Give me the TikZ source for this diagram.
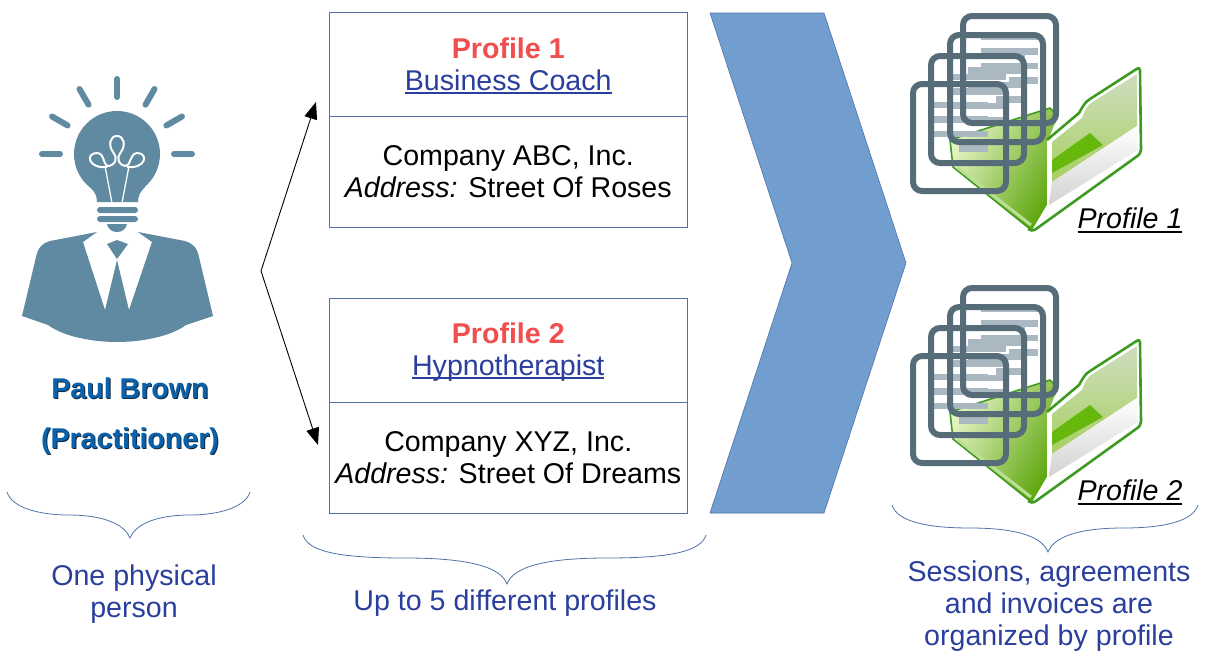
\documentclass[tikz,border=0pt]{standalone}
\usepackage{fontspec}
\setmainfont{Liberation Sans}
\usetikzlibrary{positioning,arrows.meta}
\definecolor{bluetext}{HTML}{2A3F9C}
\definecolor{nametext}{HTML}{0A62AC}
\definecolor{nameshadow}{HTML}{12293F}
\definecolor{redtext}{HTML}{F04F4F}
\definecolor{boxline}{HTML}{4F73A8}
\definecolor{chevronblue}{HTML}{729ECF}
\definecolor{personblue}{HTML}{5F8AA1}
\definecolor{docline}{HTML}{566C79}
\definecolor{docbar}{HTML}{A9B8C1}
\definecolor{folderline}{HTML}{3F9A22}
\definecolor{foldergreen}{HTML}{66B80C}
\definecolor{folderlight}{HTML}{E8F5C8}
\definecolor{flaptop}{HTML}{CFDDC0}
\definecolor{flapmid}{HTML}{A6D060}
\newcommand{\ulbar}[2][-3.5pt]{\leavevmode\setbox0=\hbox{#2}\rlap{\copy0}\rule[#1]{\wd0}{1.7pt}}
\newcommand{\headtop}{\rule{0pt}{26pt}}
\newcommand{\headbot}{\rule[-7pt]{0pt}{7pt}}
\begin{document}
\begin{tikzpicture}[x=1pt, y=-1pt, font=\fontsize{28.6}{32}\selectfont,
    mybox/.style={draw=boxline, line width=0.8pt, minimum width=357.5pt, inner sep=0pt, outer sep=0pt, align=center, fill=white},
    caption/.style={text=bluetext, align=center, inner sep=0pt},
    personname/.style={font=\fontsize{28.6}{32}\selectfont\bfseries, inner sep=0pt},
    bracket/.style={draw=boxline, line width=0.8pt},
    ray/.style={draw=personblue, line width=6pt, line cap=round}]
    \useasboundingbox (0,0) rectangle (1210,659);
    % person
    \foreach \a in {0,30,...,180}{
      \draw[ray] (117,154) ++(-\a:57) -- ++(-\a:18);
    }
    \fill[personblue] (90,187) .. controls (95,192) and (97,196) .. (97,202) -- (138,202) .. controls (138,196) and (140,192) .. (145,187) -- cycle;
    \fill[personblue] (117,154) circle[radius=43];
    \fill[personblue, rounded corners=3pt] (97,207) rectangle (138,213);
    \fill[personblue, rounded corners=3pt] (97,216) rectangle (138,222);
    \fill[personblue] (107,224) -- (127,224) .. controls (126,229) and (122,232) .. (117,232) .. controls (112,232) and (108,229) .. (107,224) -- cycle;
    \draw[white, line width=1.3pt] (112,203) -- (105,166);
    \draw[white, line width=1.3pt] (122,203) -- (129,166);
    \draw[white, line width=2pt] (107,167) .. controls (88,169) and (85,153) .. (97,153)
      .. controls (105,153) and (103,167) .. (109,166) .. controls (114,165) and (119,160) .. (113,152)
      .. controls (108,145) and (110,136) .. (117,136) .. controls (124,136) and (126,145) .. (121,152)
      .. controls (115,160) and (120,165) .. (125,166) .. controls (131,167) and (129,154) .. (137,153)
      .. controls (149,153) and (146,169) .. (127,167);
    \fill[personblue] (22,316) -- (36,257) .. controls (38,247) and (43,243) .. (50,241) -- (97,232) -- (83,242) -- (105,310) -- (117,260) -- (129,310) -- (152,242) -- (138,232)
      -- (185,241) .. controls (192,243) and (197,247) .. (199,257) -- (213,316) -- (186,325)
      .. controls (170,337) and (140,342) .. (117,342) .. controls (94,342) and (64,337) .. (48,325) -- cycle;
    \fill[personblue] (107,244) -- (117,240) -- (128,244) -- (117,259) -- cycle;
    \node[personname, text=nameshadow] (nameshadow) at (131,389) {Paul Brown};
    \node[personname, text=nametext] (name) at (130,388) {Paul Brown};
    \node[personname, text=nameshadow] (roleshadow) at (131,442) {(Practitioner)};
    \node[personname, text=nametext] (role) at (130,441) {(Practitioner)};
    % profiles
    \node[mybox, minimum height=104pt, anchor=north west] (head1) at (329.5,12.5) {\headtop\textcolor{redtext}{\textbf{Profile 1}}\\ \textcolor{bluetext}{\ulbar{Business Coach}}\headbot};
    \node[mybox, minimum height=111pt, below=0pt of head1] (body1) {Company ABC, Inc.\\ {\itshape Address:} Street Of Roses};
    \node[mybox, minimum height=104pt, anchor=north west] (head2) at (329.5,298) {\headtop\textcolor{redtext}{\textbf{Profile 2}}\\ \textcolor{bluetext}{\ulbar{Hypnotherapist}}\headbot};
    \node[mybox, minimum height=111pt, below=0pt of head2] (body2) {Company XYZ, Inc.\\ {\itshape Address:} Street Of Dreams};
    \coordinate (fork) at (261,271);
    \coordinate (tip1) at (316,102);
    \coordinate (tip2) at (318,445);
    \draw[line width=0.9pt, -{Triangle[length=17pt, width=13pt]}] (fork) -- (tip1);
    \draw[line width=0.9pt, -{Triangle[length=17pt, width=13pt]}] (fork) -- (tip2);
    % chevron
    \fill[chevronblue] (710,13) -- (824,13) -- (906,263) -- (824,513) -- (710,513) -- (792,263) -- cycle;
    \draw[boxline, line width=0.6pt] (710,13) -- (824,13) -- (906,263) -- (824,513) -- (710,513) -- (792,263) -- cycle;
    % folders
    \foreach \i/\off in {1/0,2/272}{
      \begin{scope}[shift={(0,\off)}]
        \shade[left color=folderlight, middle color=foldergreen, right color=foldergreen!90!black, shading angle=60] (950,140) -- (1050,108) -- (1058,116) -- (1048,140) -- (1047,205) -- (1032,230) -- (953,167) -- cycle;
        \draw[folderline, line width=1.6pt, line join=round] (950,140) -- (1050,108) -- (1058,116);
        \draw[folderline, line width=1.6pt, line join=round] (950,140) -- (953,167) -- (1030,229);
        \draw[white!55!foldergreen, line width=3pt] (958,168) -- (1031,225);
        \fill[white] (1047,140) -- (1079,113) .. controls (1083,106) and (1085,102) .. (1090,99) -- (1137,69) -- (1140,72) -- (1141,153) -- (1033,229) -- (1047,205) -- cycle;
        \shade[top color=flaptop, bottom color=flapmid] (1052,142) -- (1082,118) .. controls (1085,110) and (1087,106) .. (1091,103) -- (1137,74) -- (1137,126) -- (1052,182) -- cycle;
        \fill[foldergreen] (1052,173) -- (1052,160) -- (1090,133) -- (1103,145) -- cycle;
        \shade[top color=white, bottom color=gray!35] (1052,182) -- (1137,126) -- (1138,150) -- (1049,205) -- cycle;
        \draw[folderline, line width=2.6pt, line join=round] (1047,140) -- (1079,113) .. controls (1083,106) and (1085,102) .. (1090,99) -- (1135,70) .. controls (1139,67) and (1140,68) .. (1140,72)
          -- (1141,150) .. controls (1141,153) and (1139,155) .. (1136,157) -- (1036,229) .. controls (1033,231) and (1030,231) .. (1028,229);
        \foreach \dx/\dy in {910/81,928/53,947/32,960/13}{
          \fill[docbar] (\dx+21,\dy+21) rectangle (\dx+78,\dy+27);
          \fill[docbar] (\dx+21,\dy+35) rectangle (\dx+78,\dy+42);
          \fill[docbar] (\dx+21,\dy+50) rectangle (\dx+78,\dy+56);
          \fill[docbar] (\dx+49,\dy+64) rectangle (\dx+78,\dy+71);
        }
        \foreach \dx/\dy in {910/81,928/53,947/32,960/13}{
          \draw[docline, line width=6pt, rounded corners=9pt] (\dx+3,\dy+3) rectangle (\dx+96,\dy+110);
        }
        \node[inner sep=0pt, font=\fontsize{28.6}{32}\selectfont\itshape] (tag\i) at (1130,220) {\ulbar[-4.5pt]{Profile \i}};
      \end{scope}
    }
    % braces
    \foreach \xl/\xm/\xr/\yt/\dep in {7/130/250/492/46,303/507/706/535/49,892/1048/1198/505/47}{
      \draw[bracket] (\xl,\yt) .. controls (\xl+5,\yt+16) and (\xl+33,\yt+23) .. (\xl/2+\xm/2,\yt+23)
        .. controls (\xm-25,\yt+23) and (\xm-5,\yt+\dep-13) .. (\xm,\yt+\dep)
        .. controls (\xm+5,\yt+\dep-13) and (\xm+25,\yt+23) .. (\xm/2+\xr/2,\yt+23)
        .. controls (\xr-33,\yt+23) and (\xr-5,\yt+16) .. (\xr,\yt);
    }
    \node[caption] (person) at (134,594) {One physical\\ person};
    \node[caption] (upto) at (505,603) {Up to 5 different profiles};
    \node[caption] (sessions) at (1049,606) {Sessions, agreements\\ and invoices are\\ organized by profile};
\end{tikzpicture}
\end{document}
